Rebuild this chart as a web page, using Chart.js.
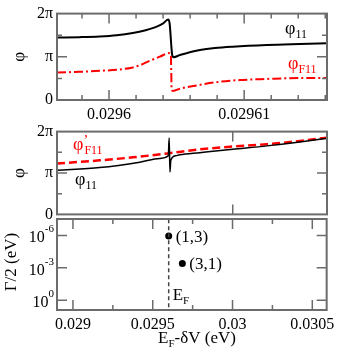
<!DOCTYPE html>
<html><head><meta charset="utf-8">
<script src="https://cdn.jsdelivr.net/npm/chart.js@4/dist/chart.umd.min.js"></script>
<style>
html,body{margin:0;padding:0;background:#fff;}
#wrap{position:relative;width:340px;height:357px;overflow:hidden;background:#fff;}
.box{position:absolute;left:0;width:340px;}
</style></head><body>
<div id="wrap">
<div class="box" style="top:0;height:130px"><canvas id="c1"></canvas></div>
<div class="box" style="top:118px;height:110px"><canvas id="c2"></canvas></div>
<div class="box" style="top:209px;height:148px"><canvas id="c3"></canvas></div>
</div>
<script>
const TWO_PI = 2 * Math.PI;

// ---------- Panel 1 (narrow energy window) ----------
const p1BlackX = [0.02959615,0.02959783,0.02959931,0.02960057,0.02960176,0.02960264,0.02960339,0.02960398,0.02960437,0.02960448,0.02960468,0.02960479,0.02960524,0.02960576,0.02960672,0.02960783,0.02960916,0.02961168,0.02961413,0.02961613];
const p1BlackPhi = [4.54,4.57,4.62,4.71,4.87,5.05,5.28,5.55,5.85,5.60,3.25,3.11,3.27,3.41,3.63,3.78,3.88,4.00,4.07,4.12];
const p1RedX = [0.02959615,0.02959783,0.02959931,0.02960079,0.02960168,0.02960227,0.02960301,0.02960376,0.02960444,0.02960457,0.02960464,0.02960474,0.02960524,0.02960576,0.02960672,0.02960798,0.02960968,0.02961168,0.02961413,0.02961613];
const p1RedPhi = [2.00,2.05,2.12,2.22,2.35,2.52,2.85,3.15,3.41,3.30,0.72,0.66,0.82,0.93,1.10,1.30,1.45,1.53,1.60,1.60];
const p1XMin = 0.02959615, p1XMax = 0.02961613;
const p1XTicks = [0.0296, 0.02961];
const p1XTickLabels = ['0.0296', '0.02961'];
const p1XMinor = [0.029598, 0.029602, 0.029604, 0.029606, 0.029608, 0.029612, 0.029614, 0.029616];

// ---------- Panel 2 (wide window) ----------
const p2BlackX = [0.0289,0.0291673,0.029418,0.0295432,0.0295965,0.0296021,0.0296071,0.0296122,0.0296435,0.0296685,0.0297939,0.03,0.0302137,0.0304204,0.03059];
const p2BlackPhi = [3.35,3.55,3.96,4.25,4.45,5.80,3.22,4.10,4.45,4.52,4.68,4.94,5.20,5.50,5.78];
const p2RedX = [0.0289,0.0291673,0.029374,0.0295934,0.0297939,0.03,0.0302137,0.0304204,0.03059];
const p2RedPhi = [3.86,4.10,4.33,4.63,4.94,5.15,5.33,5.57,5.82];
const p2XTicks = [0.03];

// phase axis ticks (panels 1 and 2)
const phiTicks = [0, Math.PI, TWO_PI];
const phiTickLabels = ['0', 'π', '2π'];
const phiMinor = [Math.PI / 2, 3 * Math.PI / 2];

// ---------- Panel 3 (resonances) ----------
const wideXMin = 0.0289, wideXMax = 0.03059;
const resX = [0.0296, 0.0296855];
const resHalfWidth = [1.1e-6, 3.9e-4];
const resLabels = ['(1,3)', '(3,1)'];
const fermiE = 0.0296;
const p3XTicks = [0.029, 0.0295, 0.03, 0.0305];
const p3XTickLabels = ['0.029', '0.0295', '0.03', '0.0305'];
const p3XMinor = [0.02925, 0.02975, 0.03025];
const p3YTicks = [1e-6, 1e-3, 1];
const p3YExp = ['-6', '-3', '0'];
const p3YMin = Math.pow(10, -7.5), p3YMax = Math.pow(10, 0.9);

// ---------- helpers ----------
const SERIF = '"Liberation Serif","DejaVu Serif",serif';
const FRAME = '#6c6c6c';
const pts = (xs, ys) => xs.map((x, i) => ({x, y: ys[i]}));

function measure(ctx, parts) {
  let w = 0;
  for (const p of parts) { ctx.font = p.s + 'px ' + SERIF; w += ctx.measureText(p.t).width; }
  return w;
}
function txt(ctx, x, y, parts, color) {
  ctx.fillStyle = color; ctx.textBaseline = 'alphabetic'; ctx.textAlign = 'left';
  let cx = x;
  for (const p of parts) {
    ctx.font = p.s + 'px ' + SERIF;
    ctx.fillText(p.t, cx, y + (p.dy || 0));
    cx += ctx.measureText(p.t).width + (p.gap || 0);
  }
  return cx;
}
function rotTxt(ctx, x, y, s, size) {
  ctx.save(); ctx.translate(x, y); ctx.rotate(-Math.PI / 2);
  ctx.font = size + 'px ' + SERIF; ctx.fillStyle = '#000';
  ctx.textAlign = 'center'; ctx.textBaseline = 'middle';
  ctx.fillText(s, 0, 0); ctx.restore();
}

function framePlugin(o) {
  return {
    id: 'frame' + o.id,
    afterDatasetsDraw(chart) {
      const {ctx, chartArea: a} = chart;
      const xs = chart.scales.x, ys = chart.scales.y;
      ctx.save();
      ctx.strokeStyle = FRAME;
      ctx.lineWidth = 1.5;
      ctx.beginPath();
      const xt = (vals, len) => vals.forEach(v => {
        const p = xs.getPixelForValue(v);
        ctx.moveTo(p, a.bottom); ctx.lineTo(p, a.bottom - len);
        ctx.moveTo(p, a.top); ctx.lineTo(p, a.top + len);
      });
      const yt = (vals, len) => vals.forEach(v => {
        const p = ys.getPixelForValue(v);
        ctx.moveTo(a.left, p); ctx.lineTo(a.left + len, p);
        ctx.moveTo(a.right, p); ctx.lineTo(a.right - len, p);
      });
      xt(o.xMajor || [], 10); xt(o.xMinor || [], 5);
      yt(o.yMajor || [], 10); yt(o.yMinor || [], 5);
      ctx.stroke();
      ctx.lineWidth = 2;
      ctx.strokeRect(a.left, a.top, a.right - a.left, a.bottom - a.top);
      ctx.restore();
      if (o.text) { ctx.save(); o.text(ctx, chart); ctx.restore(); }
    }
  };
}

function baseOpts(padTop, xCfg, yCfg) {
  return {
    animation: false, responsive: true, maintainAspectRatio: false, events: [],
    layout: {padding: {top: padTop, right: 13, left: 0, bottom: 0}},
    plugins: {legend: {display: false}, tooltip: {enabled: false}},
    scales: {x: xCfg, y: yCfg}
  };
}
const tickFont = {family: SERIF, size: 16};

function phiAxis() {
  return {
    type: 'linear', min: 0, max: TWO_PI,
    grid: {display: false, drawTicks: false}, border: {display: false},
    ticks: {font: tickFont, color: '#000', padding: 4, callback: (v, i) => phiTickLabels[i]},
    afterBuildTicks: s => { s.ticks = phiTicks.map(v => ({value: v})); },
    afterFit: s => { s.width = 57; }
  };
}

// ---------- Chart 1 ----------
new Chart(document.getElementById('c1'), {
  type: 'scatter',
  data: {datasets: [
    {data: pts(p1BlackX, p1BlackPhi), showLine: true, pointRadius: 0, borderColor: '#000', borderWidth: 2, cubicInterpolationMode: 'monotone'},
    {data: pts(p1RedX, p1RedPhi), showLine: true, pointRadius: 0, borderColor: '#ff0000', borderWidth: 2, borderDash: [9, 3, 2, 3], cubicInterpolationMode: 'monotone'}
  ]},
  options: baseOpts(11, {
    type: 'linear', min: p1XMin, max: p1XMax,
    grid: {display: false, drawTicks: false}, border: {display: false},
    ticks: {font: tickFont, color: '#000', padding: 5, maxRotation: 0, callback: (v, i) => p1XTickLabels[i]},
    afterBuildTicks: s => { s.ticks = p1XTicks.map(v => ({value: v})); },
    afterFit: s => { s.height = 30; }
  }, phiAxis()),
  plugins: [framePlugin({id: 1, xMajor: p1XTicks, xMinor: p1XMinor, yMajor: [Math.PI], yMinor: phiMinor,
    text: (ctx, chart) => {
      const a = chart.chartArea;
      rotTxt(ctx, 20, (a.top + a.bottom) / 2, 'φ', 17);
      txt(ctx, 285, 34, [{t: 'φ', s: 18}, {t: '11', s: 12, dy: 4}], '#000');
      txt(ctx, 288, 69, [{t: 'φ', s: 18}, {t: 'F11', s: 12, dy: 4}], '#ff0000');
    }})]
});

// ---------- Chart 2 ----------
new Chart(document.getElementById('c2'), {
  type: 'scatter',
  data: {datasets: [
    {data: pts(p2BlackX, p2BlackPhi), showLine: true, pointRadius: 0, borderColor: '#000', borderWidth: 1.5, cubicInterpolationMode: 'monotone'},
    {data: pts(p2RedX, p2RedPhi), showLine: true, pointRadius: 0, borderColor: '#ff0000', borderWidth: 2.5, borderDash: [8, 4], cubicInterpolationMode: 'monotone'}
  ]},
  options: baseOpts(10, {
    type: 'linear', min: wideXMin, max: wideXMax,
    grid: {display: false, drawTicks: false}, border: {display: false},
    ticks: {display: false},
    afterFit: s => { s.height = 10; }
  }, phiAxis()),
  plugins: [framePlugin({id: 2, xMajor: p2XTicks, yMajor: [Math.PI], yMinor: phiMinor,
    text: (ctx, chart) => {
      const a = chart.chartArea;
      rotTxt(ctx, 20, (a.top + a.bottom) / 2, 'φ', 17);
      const e = txt(ctx, 73, 32, [{t: 'φ', s: 18}], '#ff0000');
      txt(ctx, e, 27, [{t: '’', s: 14}], '#ff0000');
      txt(ctx, e + 1, 36, [{t: 'F11', s: 12}], '#ff0000');
      txt(ctx, 75, 67, [{t: 'φ', s: 18}, {t: '11', s: 12, dy: 4}], '#000');
    }})]
});

// ---------- Chart 3 ----------
new Chart(document.getElementById('c3'), {
  type: 'scatter',
  data: {datasets: [
    {data: [{x: fermiE, y: p3YMin}, {x: fermiE, y: p3YMax}], showLine: true, pointRadius: 0, borderColor: '#444', borderWidth: 1.5, borderDash: [4, 3]},
    {data: pts(resX, resHalfWidth), showLine: false, pointRadius: 3.5, backgroundColor: '#000', borderWidth: 0}
  ]},
  options: baseOpts(10, {
    type: 'linear', min: wideXMin, max: wideXMax,
    grid: {display: false, drawTicks: false}, border: {display: false},
    ticks: {font: tickFont, color: '#000', padding: 5, maxRotation: 0, callback: (v, i) => p3XTickLabels[i]},
    afterBuildTicks: s => { s.ticks = p3XTicks.map(v => ({value: v})); },
    afterFit: s => { s.height = 47; }
  }, {
    type: 'logarithmic', min: p3YMin, max: p3YMax, reverse: true,
    grid: {display: false, drawTicks: false}, border: {display: false},
    ticks: {display: false},
    afterFit: s => { s.width = 57; }
  }),
  plugins: [framePlugin({id: 3, xMajor: p3XTicks, xMinor: p3XMinor, yMajor: p3YTicks,
    text: (ctx, chart) => {
      const xs = chart.scales.x, ys = chart.scales.y;
      // y tick labels with exponents
      p3YTicks.forEach((v, i) => {
        const py = ys.getPixelForValue(v);
        ctx.font = '11px ' + SERIF;
        const w = ctx.measureText(p3YExp[i]).width;
        ctx.textAlign = 'right'; ctx.textBaseline = 'alphabetic'; ctx.fillStyle = '#000';
        ctx.fillText(p3YExp[i], 54, py - 3);
        ctx.font = '16px ' + SERIF;
        ctx.fillText('10', 54 - w, py + 7);
      });
      rotTxt(ctx, 12, 53, 'Γ/2 (eV)', 17);
      resX.forEach((x, i) => {
        const px = xs.getPixelForValue(x), py = ys.getPixelForValue(resHalfWidth[i]);
        txt(ctx, px + 7, py + 6, [{t: resLabels[i], s: 17}], '#000');
      });
      const fx = xs.getPixelForValue(fermiE);
      txt(ctx, fx + 4, 91, [{t: 'E', s: 17}, {t: 'F', s: 11, dy: 4}], '#000');
      const title = [{t: 'E', s: 17}, {t: 'F', s: 11, dy: 4}, {t: '-δV (eV)', s: 17}];
      const tw = measure(ctx, title);
      txt(ctx, 197 - tw / 2, 134, title, '#000');
    }})]
});
</script>
</body></html>
